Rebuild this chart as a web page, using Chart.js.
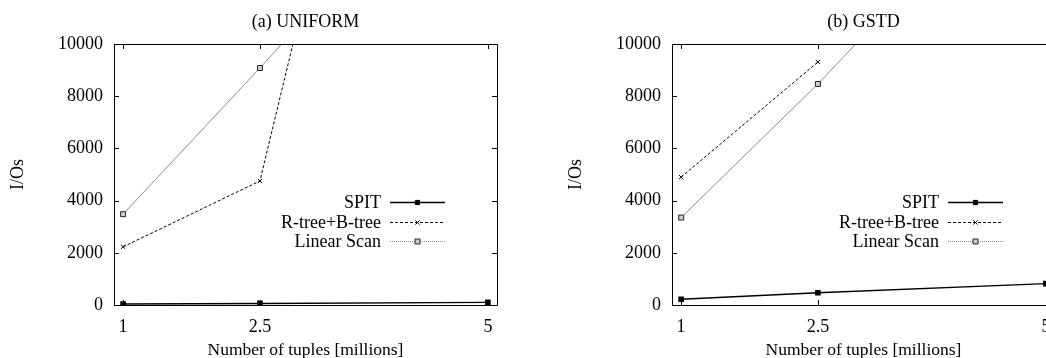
<!DOCTYPE html>
<html>
<head>
<meta charset="utf-8">
<script src="https://cdn.jsdelivr.net/npm/chart.js@4"></script>
<style>
html, body { margin: 0; padding: 0; overflow: hidden; background: #fff; }
body { position: relative; width: 1046px; height: 358px; }
canvas { position: absolute; top: 0; }
</style>
</head>
<body>
<canvas id="uniformChart" width="526" height="358" style="left:0;width:526px;height:358px"></canvas>
<canvas id="gstdChart" width="540" height="358" style="left:526px;width:540px;height:358px"></canvas>
<script>
// datos
const tuples = [1, 2.5, 5];
const xTicks = [1, 2.5, 5];
const yTicks = [0, 2000, 4000, 6000, 8000, 10000];

const uniformSpit = [40, 60, 100];
const uniformRtree = [2230, 4750, 41000];
const uniformScan = [3480, 9080, 18700];

const gstdSpit = [220, 470, 820];
const gstdRtree = [4900, 9310, null];
const gstdScan = [3350, 8470, 17700];

const serif = { family: '"Liberation Serif", "Times New Roman", serif', size: 18 };

// marco con marcas hacia dentro (estilo gnuplot)
const framePlugin = {
    id: 'frame',
    afterDatasetsDraw(chart) {
        const { ctx, chartArea: a, scales: { x, y } } = chart;
        ctx.save();
        ctx.strokeStyle = '#000';
        ctx.lineWidth = 1;
        ctx.beginPath();
        ctx.rect(a.left + 0.5, a.top + 0.5, a.right - a.left, a.bottom - a.top);
        xTicks.forEach(v => {
            const px = Math.round(x.getPixelForValue(v)) + 0.5;
            ctx.moveTo(px, a.bottom); ctx.lineTo(px, a.bottom - 5);
            ctx.moveTo(px, a.top); ctx.lineTo(px, a.top + 5);
        });
        yTicks.forEach(v => {
            const py = Math.round(y.getPixelForValue(v)) + 0.5;
            ctx.moveTo(a.left, py); ctx.lineTo(a.left + 5, py);
            ctx.moveTo(a.right, py); ctx.lineTo(a.right - 5, py);
        });
        ctx.stroke();
        ctx.restore();
    }
};

// leyenda: texto a la derecha, muestra de linea despues
const keyPlugin = {
    id: 'keyBox',
    afterDraw(chart) {
        const { ctx, chartArea: a } = chart;
        ctx.save();
        ctx.font = '18px "Liberation Serif", serif';
        ctx.textAlign = 'right';
        ctx.textBaseline = 'middle';
        chart.data.datasets.forEach((ds, i) => {
            const yy = Math.round(a.top + 158 + i * 19.5);
            const x1 = a.right - 52, x0 = a.right - 107;
            ctx.fillStyle = '#000';
            ctx.fillText(ds.label, a.right - 116, yy + 1);
            ctx.strokeStyle = ds.borderColor;
            ctx.lineWidth = ds.borderWidth;
            ctx.setLineDash(ds.keyDash || []);
            ctx.beginPath();
            ctx.moveTo(x0, yy + 0.5); ctx.lineTo(x1, yy + 0.5);
            ctx.stroke();
            ctx.setLineDash([]);
            ctx.fillStyle = ds.pointBackgroundColor;
            ctx.strokeStyle = ds.pointBorderColor;
            ctx.lineWidth = 1;
            Chart.helpers.drawPoint(ctx, { pointStyle: ds.pointStyle, radius: ds.pointRadius, rotation: 0, borderWidth: 1 }, (x0 + x1) / 2, yy + 0.5);
        });
        ctx.restore();
    }
};

function makePanel(id, title, spit, rtree, scan, axisW, rightPad, yTitlePad) {
    return new Chart(document.getElementById(id), {
        type: 'line',
        data: {
            datasets: [{
                label: 'SPIT',
                data: tuples.map((t, i) => ({ x: t, y: spit[i] })),
                borderColor: '#000',
                borderWidth: 1.4,
                pointStyle: 'rect',
                pointRadius: 3,
                pointBackgroundColor: '#000',
                pointBorderColor: '#000',
                keyDash: []
            }, {
                label: 'R-tree+B-tree',
                data: tuples.map((t, i) => ({ x: t, y: rtree[i] })),
                borderColor: '#000',
                borderWidth: 1,
                borderDash: [3, 2],
                pointStyle: 'crossRot',
                pointRadius: 3,
                pointBackgroundColor: '#000',
                pointBorderColor: '#000',
                keyDash: [3, 2]
            }, {
                label: 'Linear Scan',
                data: tuples.map((t, i) => ({ x: t, y: scan[i] })),
                borderColor: '#8a8a8a',
                borderWidth: 1,
                pointStyle: 'rect',
                pointRadius: 3.5,
                pointBackgroundColor: '#d0d0d0',
                pointBorderColor: '#222',
                keyDash: [1, 1]
            }]
        },
        options: {
            responsive: false,
            animation: false,
            layout: { padding: { left: 0, right: rightPad, top: 0, bottom: 0 } },
            plugins: {
                legend: { display: false },
                tooltip: { enabled: false },
                title: {
                    display: true,
                    fullSize: false,
                    text: title,
                    color: '#000',
                    font: { ...serif, weight: 'normal' },
                    padding: { top: 11, bottom: 11.4 }
                }
            },
            scales: {
                x: {
                    type: 'linear',
                    min: 0.9,
                    max: 5.1,
                    afterBuildTicks: s => { s.ticks = xTicks.map(v => ({ value: v })); },
                    afterFit: s => { s.height = 53; },
                    grid: { display: false, drawTicks: false },
                    border: { display: false },
                    ticks: { padding: 11, color: '#000', font: serif, callback: v => String(v) },
                    title: { display: true, text: 'Number of tuples [millions]', color: '#000', font: { ...serif, size: 17.5 }, padding: { top: 0, bottom: -3 } }
                },
                y: {
                    min: 0,
                    max: 10000,
                    afterBuildTicks: s => { s.ticks = yTicks.map(v => ({ value: v })); },
                    afterFit: s => { s.width = axisW; },
                    grid: { display: false, drawTicks: false },
                    border: { display: false },
                    ticks: { padding: 11, color: '#000', font: serif, callback: v => String(v) },
                    title: { display: true, text: 'I/Os', color: '#000', font: serif, padding: { top: yTitlePad, bottom: 0 } }
                }
            }
        },
        plugins: [framePlugin, keyPlugin]
    });
}

makePanel('uniformChart', '(a) UNIFORM', uniformSpit, uniformRtree, uniformScan, 114, 29, 7);
makePanel('gstdChart', '(b) GSTD', gstdSpit, gstdRtree, gstdScan, 146, 11, 39);
</script>
</body>
</html>
